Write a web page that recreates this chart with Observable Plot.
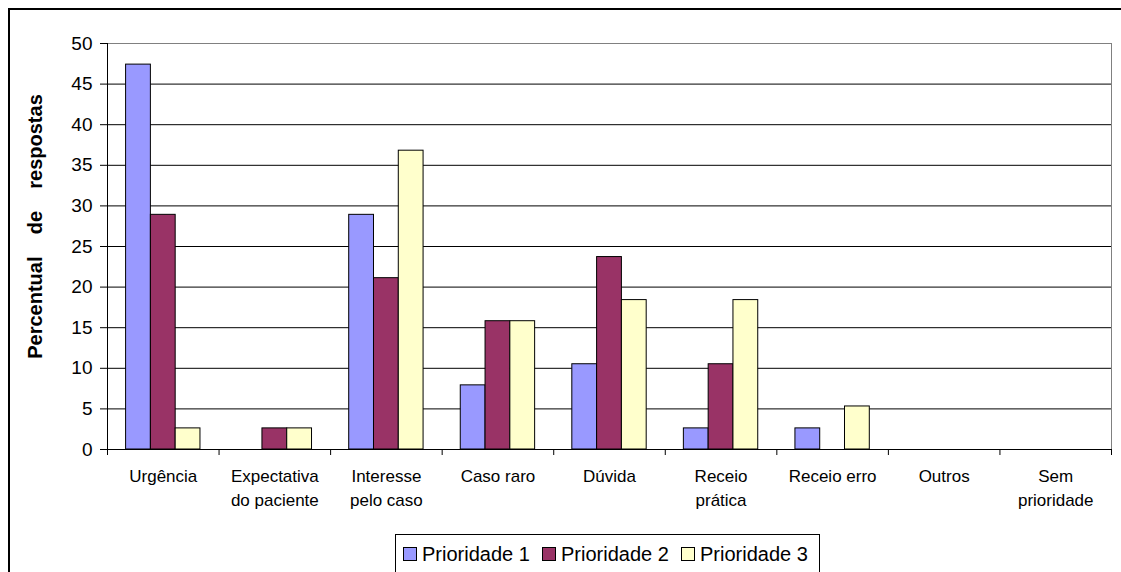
<!DOCTYPE html>
<html>
<head>
<meta charset="utf-8">
<script src="https://cdn.jsdelivr.net/npm/d3@7"></script>
<script src="https://cdn.jsdelivr.net/npm/@observablehq/plot@0.6"></script>
<style>
  html, body { margin: 0; padding: 0; background: #fff; overflow: hidden; width: 1121px; height: 572px; }
  body { font-family: "Liberation Sans", Arial, sans-serif; position: relative; }
  #outer { position: absolute; left: 8px; top: 8px; width: 1200px; height: 700px; border: 2px solid #000; box-sizing: border-box; }
  #chart { position: absolute; left: 0; top: 0; }
  #legend { position: absolute; left: 395px; top: 534px; width: 425px; height: 40px; border: 1px solid #000; box-sizing: border-box;
            display: flex; align-items: center; padding-left: 7px; background: #fff; }
  .item { display: flex; align-items: center; width: 139px; flex: none; }
  .sw { width: 14px; height: 14px; border: 1px solid #000; box-sizing: border-box; margin-right: 5px; flex: none; }
  .lab { font-size: 20px; color: #000; white-space: nowrap; }
</style>
</head>
<body>
<div id="outer"></div>
<div id="chart"></div>
<div id="legend"></div>
<script>
const categories = ["Urgência", "Expectativa\ndo paciente", "Interesse\npelo caso", "Caso raro", "Dúvida", "Receio\nprática", "Receio erro", "Outros", "Sem\nprioridade"];
const series = ["Prioridade 1", "Prioridade 2", "Prioridade 3"];
const prioridade1 = [47.4, 0, 28.9, 7.9, 10.5, 2.6, 2.6, 0, 0];
const prioridade2 = [28.9, 2.6, 21.1, 15.8, 23.7, 10.5, 0, 0, 0];
const prioridade3 = [2.6, 2.6, 36.8, 15.8, 18.4, 18.4, 5.3, 0, 0];
const colors = ["#9999FF", "#993366", "#FFFFCC"];
const yTicks = [0, 5, 10, 15, 20, 25, 30, 35, 40, 45, 50];
const yTitle = "Percentual\u00A0\u00A0\u00A0 de\u00A0\u00A0\u00A0 respostas";

const seriesValues = [prioridade1, prioridade2, prioridade3];
const data = [];
categories.forEach((c, i) => {
  seriesValues.forEach((vals, s) => {
    if (vals[i] > 0) data.push({i, s, category: c, series: series[s], value: vals[i]});
  });
});

// group layout within each category slot (fractions of a slot)
const groupPad = 1 / 6, barW = 2 / 9;

const chart = Plot.plot({
  width: 1121,
  height: 520,
  marginLeft: 107,
  marginRight: 10,
  marginTop: 43,
  marginBottom: 71,
  style: {fontFamily: "Liberation Sans, Arial, sans-serif", color: "#000", background: "transparent"},
  x: {type: "linear", domain: [0, categories.length], axis: null},
  y: {domain: [0, 50], axis: null},
  color: {domain: series, range: colors},
  marks: [
    Plot.gridY(yTicks, {stroke: "#000", strokeOpacity: 1}),
    Plot.frame({stroke: "#808080"}),
    Plot.rectY(data, {
      x1: d => d.i + groupPad + d.s * barW,
      x2: d => d.i + groupPad + (d.s + 1) * barW,
      y: "value",
      fill: "series",
      stroke: "#000",
      strokeWidth: 1
    }),
    Plot.ruleX([0], {stroke: "#000"}),
    Plot.ruleY([0], {stroke: "#000"}),
    Plot.axisY({ticks: yTicks, tickSize: 7, tickPadding: 8, fontSize: 19, label: null, stroke: "#000"}),
    Plot.axisX({ticks: d3.range(categories.length + 1), tickSize: 6, tickFormat: () => "", label: null, stroke: "#000"}),
    Plot.axisX({
      ticks: d3.range(categories.length).map(i => i + 0.5),
      tickSize: 0,
      tickPadding: 16,
      tickFormat: v => categories[Math.floor(v)],
      fontSize: 17,
      lineHeight: 1.38,
      label: null
    }),
    Plot.text([yTitle], {
      text: d => d,
      frameAnchor: "left",
      textAnchor: "middle",
      dx: -72,
      dy: -20,
      rotate: -90,
      fontSize: 20,
      fontWeight: "bold",
      fill: "#000"
    })
  ]
});
document.getElementById("chart").appendChild(chart);

const legend = document.getElementById("legend");
series.forEach((s, k) => {
  const item = document.createElement("div");
  item.className = "item";
  const sw = document.createElement("div");
  sw.className = "sw";
  sw.style.background = colors[k];
  const lab = document.createElement("span");
  lab.className = "lab";
  lab.textContent = s;
  item.appendChild(sw);
  item.appendChild(lab);
  legend.appendChild(item);
});
</script>
</body>
</html>
